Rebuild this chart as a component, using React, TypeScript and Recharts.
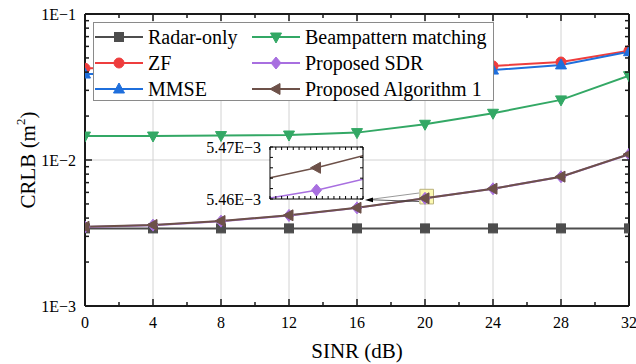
import React from 'react';
import {
  ComposedChart,
  LineChart,
  Line,
  XAxis,
  YAxis,
  CartesianGrid,
  Legend,
  ReferenceArea,
} from 'recharts';

// SINR (dB) sweep
const SINR = [0, 4, 8, 12, 16, 20, 24, 28, 32];

// CRLB values (m^2)
const RADAR_ONLY = [3.4e-3, 3.4e-3, 3.4e-3, 3.4e-3, 3.4e-3, 3.4e-3, 3.4e-3, 3.4e-3, 3.4e-3];
const ZF = [0.0425, 0.0426, 0.0428, 0.043, 0.0433, 0.0437, 0.0441, 0.0469, 0.0561];
const MMSE = [0.0388, 0.039, 0.0393, 0.0397, 0.0401, 0.0406, 0.0413, 0.0448, 0.0552];
const BEAMPATTERN = [0.01459, 0.0146, 0.0147, 0.01483, 0.0154, 0.01757, 0.0209, 0.0258, 0.0378];
const PROPOSED_SDR = [3.48e-3, 3.58e-3, 3.81e-3, 4.17e-3, 4.7e-3, 5.4617e-3, 6.35e-3, 7.68e-3, 1.093e-2];
const PROPOSED_ALG1 = [3.49e-3, 3.59e-3, 3.82e-3, 4.18e-3, 4.71e-3, 5.466e-3, 6.36e-3, 7.69e-3, 1.094e-2];

// zoomed inset around SINR = 20 dB
const INSET_SINR = [19.992, 20, 20.008];
const INSET_SDR = [5.4602e-3, 5.4617e-3, 5.4638e-3];
const INSET_ALG1 = [5.4641e-3, 5.466e-3, 5.4683e-3];

// ticks
const X_MAJOR = [0, 4, 8, 12, 16, 20, 24, 28, 32];
const X_ALL = [0, 2, 4, 6, 8, 10, 12, 14, 16, 18, 20, 22, 24, 26, 28, 30, 32];
const Y_MAJOR = [1e-3, 1e-2, 1e-1];
const Y_ALL = [1e-3, 2e-3, 3e-3, 4e-3, 5e-3, 6e-3, 7e-3, 8e-3, 9e-3, 1e-2, 2e-2, 3e-2, 4e-2, 5e-2, 6e-2, 7e-2, 8e-2, 9e-2, 1e-1];
const INSET_X_TICKS = [19.992, 19.993, 19.994, 19.995, 19.996, 19.997, 19.998, 19.999, 20, 20.001, 20.002, 20.003, 20.004, 20.005, 20.006, 20.007, 20.008];
const INSET_Y_TICKS = [5.46e-3, 5.462e-3, 5.464e-3, 5.466e-3, 5.468e-3, 5.47e-3];

const FONT = '"Liberation Serif", "Times New Roman", Times, serif';
const AXIS = '#1a1a1a';

type Shape = 'square' | 'circle' | 'up' | 'down' | 'diamond' | 'left';

const SERIES: { key: string; name: string; color: string; shape: Shape }[] = [
  { key: 'radar', name: 'Radar-only', color: '#4d4d4d', shape: 'square' },
  { key: 'zf', name: 'ZF', color: '#ee3d3d', shape: 'circle' },
  { key: 'mmse', name: 'MMSE', color: '#1f6fdc', shape: 'up' },
  { key: 'beam', name: 'Beampattern matching', color: '#33a865', shape: 'down' },
  { key: 'sdr', name: 'Proposed SDR', color: '#a86fe0', shape: 'diamond' },
  { key: 'alg1', name: 'Proposed Algorithm 1', color: '#6d5149', shape: 'left' },
];

const rows = SINR.map((s, i) => ({
  sinr: s,
  radar: RADAR_ONLY[i],
  zf: ZF[i],
  mmse: MMSE[i],
  beam: BEAMPATTERN[i],
  sdr: PROPOSED_SDR[i],
  alg1: PROPOSED_ALG1[i],
}));

const insetRows = INSET_SINR.map((s, i) => ({ sinr: s, sdr: INSET_SDR[i], alg1: INSET_ALG1[i] }));

function Marker({ cx, cy, shape, color }: { cx: number; cy: number; shape: Shape; color: string }) {
  if (cx == null || cy == null) return null;
  const p = { fill: color, stroke: color, strokeWidth: 1 };
  switch (shape) {
    case 'square':
      return <rect x={cx - 4.5} y={cy - 4.5} width={9} height={9} {...p} />;
    case 'circle':
      return <circle cx={cx} cy={cy} r={5} {...p} />;
    case 'up':
      return <polygon points={`${cx},${cy - 6} ${cx + 5.5},${cy + 4} ${cx - 5.5},${cy + 4}`} {...p} />;
    case 'down':
      return <polygon points={`${cx},${cy + 6} ${cx + 5.5},${cy - 4} ${cx - 5.5},${cy - 4}`} {...p} />;
    case 'diamond':
      return <polygon points={`${cx},${cy - 6} ${cx + 5},${cy} ${cx},${cy + 6} ${cx - 5},${cy}`} {...p} />;
    default:
      return <polygon points={`${cx - 6},${cy} ${cx + 4},${cy - 5.5} ${cx + 4},${cy + 5.5}`} {...p} />;
  }
}

const isDecade = (v: number) => Math.abs(Math.log10(v) - Math.round(Math.log10(v))) < 1e-6;
const fmtE = (v: number) => {
  const e = Math.round(Math.log10(v));
  return `1E${e < 0 ? '\u2212' : ''}${Math.abs(e)}`;
};

// inward ticks, drawn by hand so major and minor can differ in length
const BottomTick = (props: any) => {
  const { x, y, payload } = props;
  const major = payload.value % 4 === 0;
  return (
    <g>
      <line x1={x} y1={y} x2={x} y2={y - (major ? 7 : 4)} stroke={AXIS} strokeWidth={1.5} />
      {major && (
        <text x={x} y={y + 22} textAnchor="middle" fontSize={16} fill="#000">
          {payload.value}
        </text>
      )}
    </g>
  );
};

const TopTick = (props: any) => {
  const { x, y, payload } = props;
  const len = payload.value % 4 === 0 ? 7 : 4;
  return <line x1={x} y1={y} x2={x} y2={y + len} stroke={AXIS} strokeWidth={1.5} />;
};

const LeftTick = (props: any) => {
  const { x, y, payload } = props;
  const major = isDecade(payload.value);
  return (
    <g>
      <line x1={x} y1={y} x2={x + (major ? 7 : 4)} y2={y} stroke={AXIS} strokeWidth={1.5} />
      {major && (
        <text x={x - 9} y={y + 5.5} textAnchor="end" fontSize={16} fill="#000">
          {fmtE(payload.value)}
        </text>
      )}
    </g>
  );
};

const RightTick = (props: any) => {
  const { x, y, payload } = props;
  const len = isDecade(payload.value) ? 7 : 4;
  return <line x1={x} y1={y} x2={x - len} y2={y} stroke={AXIS} strokeWidth={1.5} />;
};

const InsetTick = (props: any) => {
  const { x, y, side, index, payload } = props;
  const d = 3;
  if (side === 'bottom') return <line x1={x} y1={y} x2={x} y2={y - d} stroke="#000" />;
  if (side === 'top') return <line x1={x} y1={y} x2={x} y2={y + d} stroke="#000" />;
  if (side === 'right') return <line x1={x} y1={y} x2={x - d} y2={y} stroke="#000" />;
  const last = index === INSET_Y_TICKS.length - 1;
  return (
    <g>
      <line x1={x} y1={y} x2={x + d} y2={y} stroke="#000" />
      {(index === 0 || last) && (
        <text x={x - 9} y={y + 5.5} textAnchor="end" fontSize={16} fill="#000">
          {`${(payload.value * 1000).toFixed(2)}E\u22123`}
        </text>
      )}
    </g>
  );
};

const XTitle = (props: any) => {
  const vb = props.viewBox || {};
  return (
    <text x={vb.x + vb.width / 2} y={vb.y + 52} textAnchor="middle" fontSize={21} fill="#000">
      SINR (dB)
    </text>
  );
};

const YTitle = (props: any) => {
  const vb = props.viewBox || {};
  const cx = vb.x + vb.width - 57;
  const cy = vb.y + vb.height / 2;
  return (
    <text x={cx} y={cy} transform={`rotate(-90, ${cx}, ${cy})`} textAnchor="middle" dominantBaseline="central" fontSize={21} fill="#000">
      CRLB (m
      <tspan dy={-8} fontSize={13}>2</tspan>
      <tspan dy={8}>)</tspan>
    </text>
  );
};

const LegendBox = (props: any) => {
  const payload = [...(props.payload || [])].sort(
    (a: any, b: any) =>
      SERIES.findIndex((s) => s.key === a.dataKey) - SERIES.findIndex((s) => s.key === b.dataKey),
  );
  return (
    <div
      style={{
        boxSizing: 'border-box',
        width: 401,
        height: 79,
        border: '1px solid #8a8a8a',
        background: '#fff',
        paddingLeft: 1,
        paddingTop: 1,
        display: 'grid',
        gridTemplateRows: 'repeat(3, 26px)',
        gridTemplateColumns: '157px 1fr',
        gridAutoFlow: 'column',
        fontFamily: FONT,
        fontSize: 20,
        color: '#000',
      }}
    >
      {payload.map((item: any) => {
        const s = SERIES.find((q) => q.key === item.dataKey) || SERIES[0];
        return (
          <div key={s.key} style={{ display: 'flex', alignItems: 'center', whiteSpace: 'nowrap' }}>
            <svg width={48} height={26} style={{ flex: 'none' }}>
              <line x1={0} y1={13} x2={48} y2={13} stroke={s.color} strokeWidth={2} />
              <Marker cx={24} cy={13} shape={s.shape} color={s.color} />
            </svg>
            <span style={{ marginLeft: 5, lineHeight: '26px' }}>{item.value}</span>
          </div>
        );
      })}
    </div>
  );
};

export default function App() {
  return (
    <div style={{ position: 'absolute', left: 0, top: 0, width: 636, height: 364, background: '#fff', fontFamily: FONT }}>
      <ComposedChart width={636} height={364} data={rows} margin={{ top: 0, right: 0, bottom: 0, left: 0 }}>
        <CartesianGrid xAxisId="main" yAxisId="main" stroke="#d2d2d2" strokeWidth={1}
          verticalValues={X_MAJOR} horizontalValues={Y_MAJOR} />

        <XAxis xAxisId="main" dataKey="sinr" type="number" domain={[0, 32]} allowDataOverflow ticks={X_ALL}
          interval={0} height={58} tickSize={0} tickMargin={0} tickLine={false}
          axisLine={{ stroke: AXIS, strokeWidth: 2 }} tick={BottomTick} label={<XTitle />} />
        <XAxis xAxisId="top" orientation="top" dataKey="sinr" type="number" domain={[0, 32]} allowDataOverflow ticks={X_ALL}
          interval={0} height={14} tickSize={0} tickMargin={0} tickLine={false}
          axisLine={{ stroke: AXIS, strokeWidth: 2 }} tick={TopTick} />

        <YAxis yAxisId="main" type="number" scale="log" domain={[1e-3, 1e-1]} allowDataOverflow ticks={Y_ALL}
          interval={0} width={85} tickSize={0} tickMargin={0} tickLine={false}
          axisLine={{ stroke: AXIS, strokeWidth: 2 }} tick={LeftTick} label={<YTitle />} />
        <YAxis yAxisId="right" orientation="right" type="number" scale="log" domain={[1e-3, 1e-1]} allowDataOverflow
          ticks={Y_ALL} interval={0} width={7} tickSize={0} tickMargin={0} tickLine={false}
          axisLine={{ stroke: AXIS, strokeWidth: 2 }} tick={RightTick} />

        {/* highlighted point that the inset zooms into */}
        <ReferenceArea xAxisId="main" yAxisId="main" x1={19.7} x2={20.5} y1={5.0e-3} y2={6.3e-3}
          fill="#fcf9b2" fillOpacity={1} stroke="#b9b27c" strokeWidth={1} />

        {SERIES.map((s) => (
          <Line
            key={s.key}
            xAxisId="main"
            yAxisId="main"
            dataKey={s.key}
            name={s.name}
            stroke={s.color}
            strokeWidth={2}
            isAnimationActive={false}
            activeDot={false}
            dot={(p: any) => <Marker key={`${s.key}-${p.index}`} cx={p.cx} cy={p.cy} shape={s.shape} color={s.color} />}
          />
        ))}

        <Legend layout="vertical" align="center" verticalAlign="middle" content={<LegendBox />}
          wrapperStyle={{ left: 93, top: 22, width: 401, height: 79 }} />
      </ComposedChart>

      {/* inset */}
      <div style={{ position: 'absolute', left: 200, top: 136 }}>
        <LineChart width={170} height={75} data={insetRows} margin={{ top: 0, right: 0, bottom: 0, left: 0 }}>
          <XAxis xAxisId="b" dataKey="sinr" type="number" domain={[19.992, 20.008]} allowDataOverflow ticks={INSET_X_TICKS}
            interval={0} height={12} tickSize={0} tickMargin={0} tickLine={false} axisLine={{ stroke: '#000' }}
            tick={(p: any) => <InsetTick {...p} side="bottom" />} />
          <XAxis xAxisId="t" orientation="top" dataKey="sinr" type="number" domain={[19.992, 20.008]} allowDataOverflow
            ticks={INSET_X_TICKS} interval={0} height={11} tickSize={0} tickMargin={0} tickLine={false}
            axisLine={{ stroke: '#000' }} tick={(p: any) => <InsetTick {...p} side="top" />} />
          <YAxis yAxisId="l" type="number" domain={[5.46e-3, 5.47e-3]} allowDataOverflow ticks={INSET_Y_TICKS}
            interval={0} width={70} tickSize={0} tickMargin={0} tickLine={false} axisLine={{ stroke: '#000' }}
            tick={(p: any) => <InsetTick {...p} side="left" />} />
          <YAxis yAxisId="r" orientation="right" type="number" domain={[5.46e-3, 5.47e-3]} allowDataOverflow
            ticks={INSET_Y_TICKS} interval={0} width={7} tickSize={0} tickMargin={0} tickLine={false}
            axisLine={{ stroke: '#000' }} tick={(p: any) => <InsetTick {...p} side="right" />} />
          <ReferenceArea xAxisId="b" yAxisId="l" x1={19.992} x2={20.008} y1={5.46e-3} y2={5.47e-3}
            fill="#fff" fillOpacity={1} stroke="none" />
          {SERIES.filter((s) => s.key === 'sdr' || s.key === 'alg1').map((s) => (
            <Line
              key={s.key}
              xAxisId="b"
              yAxisId="l"
              dataKey={s.key}
              stroke={s.color}
              strokeWidth={1.5}
              isAnimationActive={false}
              activeDot={false}
              dot={(p: any) =>
                p.index === 1 ? (
                  <Marker key={`${s.key}-i${p.index}`} cx={p.cx} cy={p.cy} shape={s.shape} color={s.color} />
                ) : (
                  <g key={`${s.key}-i${p.index}`} />
                )
              }
            />
          ))}
        </LineChart>
      </div>

      {/* arrow from highlighted point to the inset */}
      <svg width={636} height={364} style={{ position: 'absolute', left: 0, top: 0, pointerEvents: 'none' }}>
        <line x1={372} y1={199.8} x2={419} y2={201.5} stroke="#333" strokeWidth={0.8} />
        <line x1={372} y1={199.2} x2={419} y2={193} stroke="#333" strokeWidth={0.5} />
        <polygon points="365,200 373,197.6 373,202.2" fill="#000" />
      </svg>
    </div>
  );
}
